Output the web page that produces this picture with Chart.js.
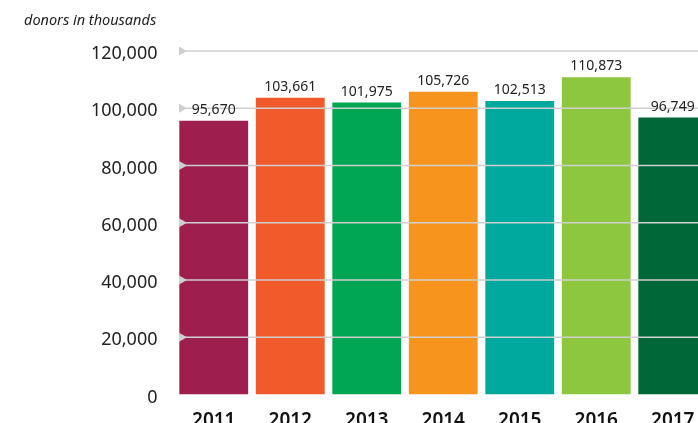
<!DOCTYPE html>
<html>
<head>
<meta charset="utf-8">
<script src="https://cdn.jsdelivr.net/npm/chart.js@4.4.0/dist/chart.umd.min.js"></script>
<style>
  html, body { margin: 0; padding: 0; background: #fff; overflow: hidden; }
  #wrap { position: relative; width: 711px; height: 440px; }
  #titulo { position: absolute; left: 24px; top: 9px; font: italic 14.5px "Noto Sans", sans-serif; color: #222; }
</style>
</head>
<body>
<div id="wrap">
  <div id="titulo">donors in thousands</div>
  <canvas id="grafico"></canvas>
</div>
<script>
const anos = ["2011", "2012", "2013", "2014", "2015", "2016", "2017"];
const doadores = [95670, 103661, 101975, 105726, 102513, 110873, 96749];
const cores = ["#9E1F4D", "#F15A2B", "#00A651", "#F7941D", "#00A99D", "#8DC63F", "#006838"];
const ticksY = [0, 20000, 40000, 60000, 80000, 100000, 120000];

// linhas da grelha por cima das barras, com o triangulo no inicio
const grelha = {
  id: "grelha",
  afterDatasetsDraw(chart) {
    const ctx = chart.ctx;
    const y = chart.scales.y;
    const area = chart.chartArea;
    const x0 = area.left + 3.5;
    ctx.save();
    ticksY.forEach(v => {
      if (v === 0) return;
      const py = y.getPixelForValue(v);
      ctx.strokeStyle = "#cfcfcf";
      ctx.lineWidth = 1.5;
      ctx.beginPath();
      ctx.moveTo(x0, py);
      ctx.lineTo(area.right, py);
      ctx.stroke();
      ctx.fillStyle = "#cfcfcf";
      ctx.beginPath();
      ctx.moveTo(x0, py - 4.5);
      ctx.lineTo(x0 + 8, py);
      ctx.lineTo(x0, py + 4.5);
      ctx.closePath();
      ctx.fill();
    });
    ctx.restore();
  }
};

// valores por cima de cada barra
const rotulos = {
  id: "rotulos",
  afterDatasetsDraw(chart) {
    const ctx = chart.ctx;
    const meta = chart.getDatasetMeta(0);
    ctx.save();
    ctx.font = "14px 'Noto Sans', sans-serif";
    ctx.fillStyle = "#222";
    ctx.textAlign = "center";
    ctx.textBaseline = "bottom";
    meta.data.forEach((bar, i) => {
      ctx.fillText(doadores[i].toLocaleString("en-US"), bar.x, bar.y - 4);
    });
    ctx.restore();
  }
};

const ctx = document.getElementById("grafico").getContext("2d");
new Chart(ctx, {
  type: "bar",
  data: {
    labels: anos,
    datasets: [{
      data: doadores,
      backgroundColor: cores,
      borderWidth: 0,
      categoryPercentage: 1,
      barPercentage: 0.9
    }]
  },
  options: {
    responsive: true,
    maintainAspectRatio: false,
    animation: false,
    layout: { padding: { top: 51, left: 0, right: 0, bottom: 0 } },
    plugins: {
      legend: { display: false },
      tooltip: { enabled: false }
    },
    scales: {
      x: {
        grid: { display: false, drawTicks: false },
        border: { display: false },
        ticks: {
          padding: 15,
          color: "#111",
          font: { family: "'Noto Sans', sans-serif", size: 19, weight: "600" }
        },
        afterFit(scale) { scale.height = 45.4; }
      },
      y: {
        min: 0,
        max: 120000,
        grid: { display: false, drawTicks: false },
        border: { display: false },
        ticks: {
          stepSize: 20000,
          padding: 18,
          labelOffset: 3,
          color: "#222",
          font: { family: "'Noto Sans', sans-serif", size: 18 },
          callback: v => v.toLocaleString("en-US")
        },
        afterFit(scale) { scale.width = 175.5; }
      }
    }
  },
  plugins: [grelha, rotulos]
});
</script>
</body>
</html>
